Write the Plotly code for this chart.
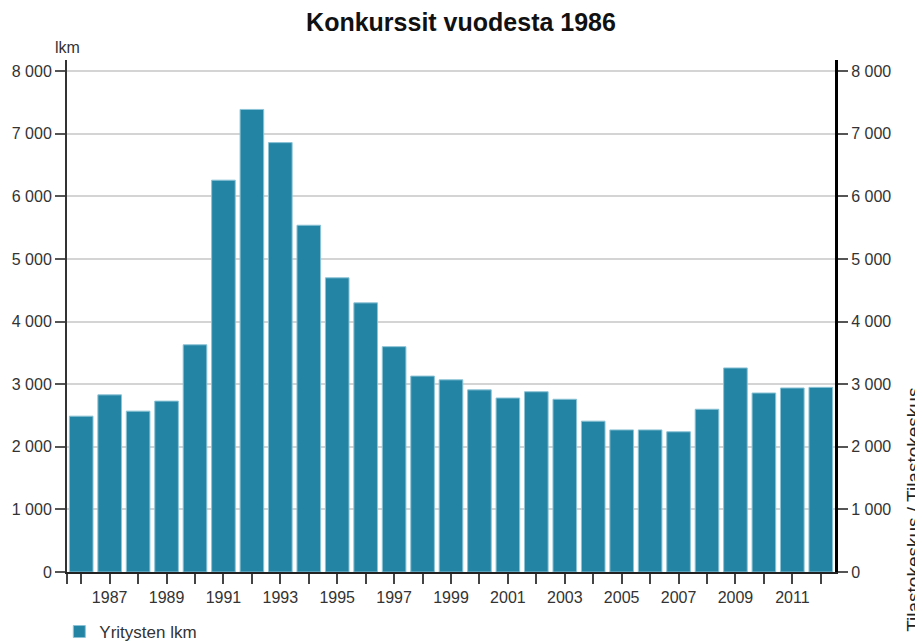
import plotly.graph_objects as go

years = list(range(1986, 2013))
bankruptcies = [2490, 2830, 2570, 2730, 3630, 6260, 7390, 6860, 5540, 4700,
                4300, 3600, 3130, 3070, 2910, 2780, 2880, 2760, 2410, 2270,
                2270, 2240, 2600, 3260, 2860, 2940, 2950]
series_name = "Yritysten lkm"
title_text = "Konkurssit vuodesta 1986"
y_ticks = [0, 1000, 2000, 3000, 4000, 5000, 6000, 7000, 8000]
x_tickvals = [1985.5] + years
x_ticktext = [""] + [str(y) if y % 2 == 1 else "" for y in years]

FONT = "Liberation Sans, Arial, sans-serif"
BAR = "#2384a3"

fig = go.Figure()
fig.add_trace(go.Bar(
    x=years, y=bankruptcies, name=series_name,
    marker=dict(color=BAR, line=dict(color="#8cc3d6", width=1)),
    showlegend=True,
))
fig.add_trace(go.Scatter(
    x=years, y=bankruptcies, yaxis="y2", mode="markers",
    marker=dict(opacity=0), showlegend=False, hoverinfo="skip",
))

# The page body has an 8px margin, so the figure is 8px smaller in each direction
fig.update_layout(
    width=915, height=635,
    margin=dict(l=59, r=88, t=52, b=71, autoexpand=False),
    paper_bgcolor="white", plot_bgcolor="white",
    separators=", ",
    bargap=0.17,
    title=dict(text="<b>" + title_text + "</b>", x=(461 - 8) / 915, xanchor="center",
               y=1 - 14 / 635, yanchor="middle",
               font=dict(family=FONT, size=25, color="#111111")),
    font=dict(family=FONT, size=16, color="#333333"),
    xaxis=dict(
        range=[1985.5, 2012.5], tickvals=x_tickvals, ticktext=x_ticktext,
        ticks="outside", ticklen=10, tickwidth=2, tickcolor="#444444",
        showline=True, linecolor="#222222", linewidth=2,
        showgrid=False, zeroline=False, automargin=False,
        tickfont=dict(family=FONT, size=16, color="#333333"),
    ),
    yaxis=dict(
        range=[0, 8180], tickvals=y_ticks, tickformat=",d",
        ticks="outside", ticklen=10, tickwidth=2, tickcolor="#555555",
        showline=True, linecolor="#333333", linewidth=2, automargin=False,
        showgrid=True, gridcolor="#d4d4d4", gridwidth=2, zeroline=False,
        tickfont=dict(family=FONT, size=16, color="#333333"),
    ),
    yaxis2=dict(
        overlaying="y", side="right", matches="y", tickvals=y_ticks, tickformat=",d",
        ticks="outside", ticklen=10, tickwidth=2, tickcolor="#555555",
        showline=True, linecolor="#000000", linewidth=3, automargin=False,
        showgrid=False, zeroline=False,
        tickfont=dict(family=FONT, size=16, color="#333333"),
    ),
    legend=dict(x=-0.01, xanchor="left", y=-0.082, yanchor="top",
                orientation="h", font=dict(family=FONT, size=17, color="#333333"),
                bgcolor="rgba(0,0,0,0)"),
    annotations=[
        dict(text="lkm", xref="paper", yref="paper", x=0, y=1.025,
             xanchor="center", yanchor="middle", showarrow=False,
             font=dict(family=FONT, size=16, color="#333333")),
        dict(text="Tilastokeskus / Tilastokeskus", xref="paper", yref="paper",
             x=1.102, y=0.122, xanchor="center", yanchor="middle", textangle=-90,
             showarrow=False, font=dict(family=FONT, size=19, color="#222222")),
    ],
)

fig.write_html("out.html")
